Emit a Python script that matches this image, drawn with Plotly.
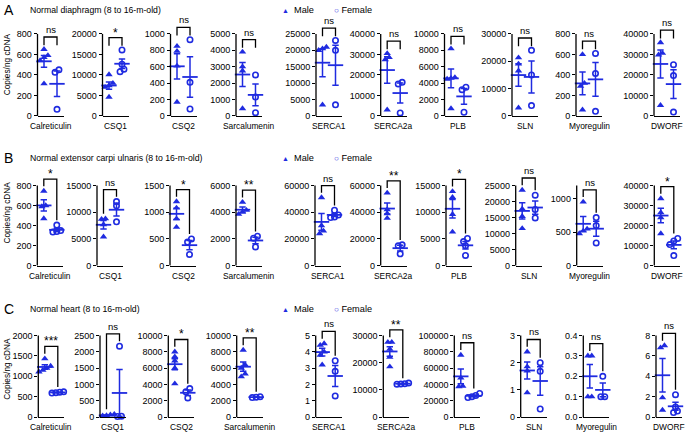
import numpy as np
import plotly.graph_objects as go

W, H = 685, 435
BLUE = "#1f2be0"
FONT = "Arial, Liberation Sans, Helvetica, sans-serif"

genes = ["Calreticulin", "CSQ1", "CSQ2", "Sarcalumenin", "SERCA1",
         "SERCA2a", "PLB", "SLN", "Myoregulin", "DWORF"]
row_letters = ["A", "B", "C"]
row_titles = ["Normal diaphragm (8 to 16-m-old)",
              "Normal extensor carpi ulnaris (8 to 16-m-old)",
              "Normal heart (8 to 16-m-old)"]

# ---- Row A : diaphragm ----
a_male = [[650, 590, 570, 540, 315], [10100, 8000, 7400, 7000, 4600],
          [850, 790, 610, 170], [3900, 3000, 2750, 450],
          [21000, 20500, 20000, 3400], [30500, 28500, 27500, 3000],
          [8200, 4700, 4600, 4500, 900], [21300, 19000, 16500, 3000],
          [600, 320, 290, 60], [35800, 30600, 29800, 5200]]
a_female = [[450, 425, 65], [16100, 12600, 11400, 10800],
            [930, 410, 85], [2500, 1150, 200],
            [23000, 20000, 3400], [16400, 15600, 1500],
            [3500, 3200, 450], [24000, 15000, 3800],
            [610, 415, 45], [25000, 19700, 1900]]
a_sig = ["ns", "*", "ns", "ns", "ns", "ns", "ns", "ns", "ns", "ns"]
a_top = [800, 20000, 1000, 5000, 25000, 40000, 10000, 30000, 800, 40000]
a_dtick = [200, 5000, 200, 1000, 5000, 10000, 2000, 10000, 200, 10000]

# ---- Row B : extensor carpi ulnaris ----
b_male = [[745, 600, 590, 470], [8800, 8700, 7700, 5400],
          [1200, 1080, 880, 720], [4750, 4150, 4000, 3850],
          [51000, 30000, 26000, 24000], [54500, 42000, 39000, 35500],
          [13900, 12800, 9600, 6300], [23600, 17700, 15400, 11600],
          [955, 550, 520, 480], [33500, 26500, 24000, 16000]]
b_female = [[405, 350, 340, 335], [12000, 11200, 8200],
            [500, 440, 210], [2200, 2050, 1400],
            [41500, 38000, 36500, 36000], [15600, 14800, 8800],
            [5100, 4500, 3700, 1900], [22000, 17500, 14900],
            [720, 600, 340], [13600, 12300, 10500, 5000]]
b_sig = ["*", "ns", "*", "**", "ns", "**", "*", "ns", "ns", "*"]
b_top = [800, 15000, 1500, 6000, 60000, 60000, 15000, 25000, 1200, 40000]
b_dtick = [200, 5000, 500, 2000, 20000, 20000, 5000, 5000, 500, 10000]

# ---- Row C : heart ----
c_male = [[1430, 1250, 1200, 1150, 1110], [90, 70, 50, 40, 30],
          [8000, 7400, 6900, 6000, 4100], [8200, 6400, 6000, 5300, 4950],
          [4.5, 4.4, 4.0, 3.8, 3.2], [27500, 27500, 25000, 22000, 18500],
          [76000, 48000, 38000, 37500], [2.4, 1.85, 1.7, 0.9],
          [0.3, 0.3, 0.1, 0.1], [7.0, 6.8, 1.9, 0.7]]
c_female = [[620, 610, 600, 590], [2170, 30, 20],
            [3500, 3100, 2350], [2500, 2450, 2400],
            [3.45, 2.8, 1.3], [12500, 12300, 12200, 12100],
            [29000, 26500, 25000, 24000], [2.0, 1.68, 0.3],
            [0.2, 0.1, 0.1], [2.2, 1.0, 0.6, 0.45]]
c_sig = ["***", "ns", "*", "**", "ns", "**", "ns", "ns", "ns", "ns"]
c_top = [2000, 2500, 10000, 10000, 5, 30000, 100000, 3, 0.4, 8]
c_dtick = [500, 500, 2000, 2000, 1, 10000, 20000, 1, 0.1, 2]

rows = [
    dict(male=a_male, female=a_female, sig=a_sig, top=a_top, dtick=a_dtick,
         zero=117.3, ttop=34.3, title_y=10, short_legs=True, ytitle_c=65,
         xs=[37.5, 102.5, 170.5, 236, 316, 380.7, 444.5, 512, 576, 654]),
    dict(male=b_male, female=b_female, sig=b_sig, top=b_top, dtick=b_dtick,
         zero=268.7, ttop=187.7, title_y=160, short_legs=False, ytitle_c=215,
         xs=[37.3, 97, 170, 236, 315, 380.7, 446, 515.7, 576.7, 654.3]),
    dict(male=c_male, female=c_female, sig=c_sig, top=c_top, dtick=c_dtick,
         zero=422, ttop=339.3, title_y=312.5, short_legs=False, ytitle_c=373,
         xs=[38.3, 100, 168.3, 236.7, 315.7, 383.3, 454.3, 520.7, 583.3, 656]),
]

PANEL_W = 26
EXT = 1.14


def spread(vals, top, hpx):
    px = np.asarray(vals, float) / top * hpx
    order = np.argsort(px)
    off = np.zeros(len(vals))
    clusters, cur = [], [order[0]]
    for i in order[1:]:
        if px[i] - px[cur[-1]] < 4.0:
            cur.append(i)
        else:
            clusters.append(cur)
            cur = [i]
    clusters.append(cur)
    for c in clusters:
        k = len(c)
        for j, idx in enumerate(c):
            off[idx] = (j - (k - 1) / 2) * 0.3
    return off


fig = go.Figure()
layout = {}
annotations = []
shapes = []
n = 0
for r, row in enumerate(rows):
    hpx = row["zero"] - row["ttop"]
    for g in range(10):
        n += 1
        sfx = "" if n == 1 else str(n)
        xr, yr = "x" + sfx, "y" + sfx
        top = row["top"][g]
        dt = row["dtick"][g]
        x0 = row["xs"][g]
        ybot = (H - row["zero"]) / H
        ytop = (H - (row["zero"] - hpx * EXT)) / H
        tickvals = [round(v, 6) for v in np.arange(0, top * 1.0001, dt)]
        layout["xaxis" + sfx] = dict(
            domain=[x0 / W, (x0 + PANEL_W) / W], range=[-0.5, 1.5], anchor=yr,
            showline=True, linecolor="black", linewidth=1.3, ticks="",
            showticklabels=False, showgrid=False, zeroline=False, fixedrange=True)
        layout["yaxis" + sfx] = dict(
            domain=[ybot, ytop], range=[0, top * EXT], anchor=xr,
            showline=False, ticks="outside", ticklen=3, tickwidth=1.2,
            tickcolor="black", tickvals=tickvals,
            tickformat=".1f" if top < 1 else "d",
            tickfont=dict(size=9, color="black", family=FONT),
            showgrid=False, zeroline=False, fixedrange=True)
        # y axis line up to the top tick
        shapes.append(dict(type="line", xref="paper", yref="paper",
                           x0=x0 / W, x1=x0 / W, y0=ybot,
                           y1=(H - row["ttop"]) / H,
                           line=dict(color="black", width=1.3)))
        m = np.asarray(row["male"][g], float)
        f = np.asarray(row["female"][g], float)
        for xi, vals, sym, is_m in [(0, m, "triangle-up", True),
                                     (1, f, "circle-open", False)]:
            off = spread(vals, top, hpx)
            marker = (dict(symbol=sym, size=6.5, color=BLUE) if is_m else
                      dict(symbol=sym, size=5.4, color=BLUE,
                           line=dict(width=1.6, color=BLUE)))
            fig.add_trace(go.Scatter(x=xi + off, y=vals, mode="markers",
                                     marker=marker, xaxis=xr, yaxis=yr,
                                     cliponaxis=False, showlegend=False,
                                     hoverinfo="skip"))
            mean = vals.mean()
            sem = vals.std(ddof=1) / np.sqrt(len(vals))
            fig.add_trace(go.Scatter(
                x=[xi], y=[mean], mode="markers",
                marker=dict(symbol="line-ew-open", size=11, color=BLUE,
                            line=dict(width=1.8, color=BLUE)),
                error_y=dict(type="data", array=[sem], width=3.2,
                             thickness=1.5, color=BLUE),
                xaxis=xr, yaxis=yr, cliponaxis=False, showlegend=False,
                hoverinfo="skip"))
        # significance bracket
        gm = max(m.max(), m.mean() + m.std(ddof=1) / np.sqrt(len(m)))
        gf = max(f.max(), f.mean() + f.std(ddof=1) / np.sqrt(len(f)))
        bh = max(gm, gf) + 0.15 * top
        if row["short_legs"]:
            lm = lf = bh - 0.1 * top
        else:
            lm = min(gm + 0.06 * top, bh - 0.08 * top)
            lf = min(gf + 0.06 * top, bh - 0.08 * top)
        fig.add_trace(go.Scatter(x=[0, 0, 1, 1], y=[lm, bh, bh, lf],
                                 mode="lines",
                                 line=dict(color="black", width=1.3),
                                 xaxis=xr, yaxis=yr, showlegend=False,
                                 hoverinfo="skip"))
        s = row["sig"][g]
        annotations.append(dict(
            x=0.5, y=bh, xref=xr, yref=yr, text=s, showarrow=False,
            xanchor="center", yanchor="bottom", yshift=(0 if s == "ns" else -4),
            font=dict(size=9.5 if s == "ns" else 12, color="black",
                      family=FONT)))
        # gene label
        annotations.append(dict(
            x=0.5, y=0, xref=xr + " domain", yref=yr, text=genes[g],
            showarrow=False, xanchor="center", yanchor="top", yshift=-3,
            font=dict(size=8.4, color="black", family=FONT)))
    # row letter, title, legend, y title
    ty = (H - row["title_y"]) / H
    annotations.append(dict(x=2 / W, y=ty, xref="paper", yref="paper",
                            text=row_letters[r], showarrow=False,
                            xanchor="left", yanchor="middle",
                            font=dict(size=14, color="black", family=FONT)))
    annotations.append(dict(x=28 / W, y=ty, xref="paper", yref="paper",
                            text=row_titles[r], showarrow=False,
                            xanchor="left", yanchor="middle",
                            font=dict(size=8.7, color="black", family=FONT)))
    annotations.append(dict(x=280 / W, y=ty, xref="paper", yref="paper",
                            text="<span style='color:%s;font-size:7px'>\u25B2</span>  Male" % BLUE,
                            showarrow=False, xanchor="left", yanchor="middle",
                            font=dict(size=9.2, color="black", family=FONT)))
    annotations.append(dict(x=332 / W, y=ty, xref="paper", yref="paper",
                            text="<span style='color:%s;font-size:8px'><b>\u25CB</b></span> Female" % BLUE,
                            showarrow=False, xanchor="left", yanchor="middle",
                            font=dict(size=9.2, color="black", family=FONT)))
    annotations.append(dict(x=7 / W, y=(H - row["ytitle_c"]) / H,
                            xref="paper", yref="paper", text="Copies/ng cDNA",
                            textangle=-90, showarrow=False,
                            xanchor="center", yanchor="middle",
                            font=dict(size=8.3, color="black", family=FONT)))

fig.update_layout(width=W, height=H, margin=dict(l=0, r=0, t=0, b=0),
                  paper_bgcolor="white", plot_bgcolor="white",
                  font=dict(family=FONT, color="black"),
                  annotations=annotations, shapes=shapes, **layout)
fig.write_html("out.html", config={"displayModeBar": False},
               post_script="document.body.style.margin='0px';")
